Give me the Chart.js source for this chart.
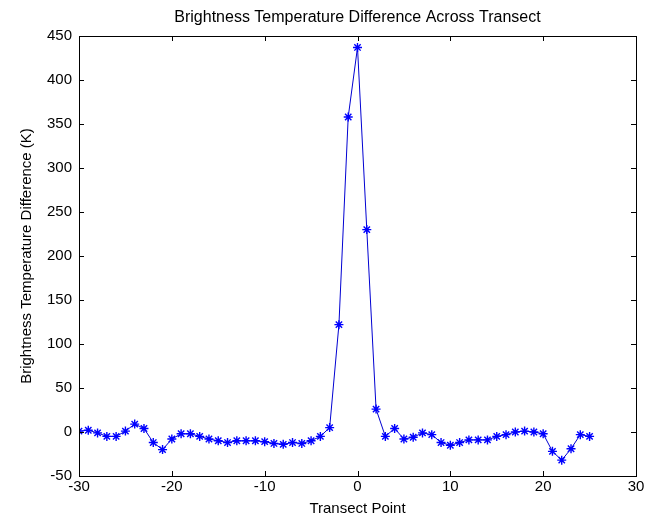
<!DOCTYPE html>
<html>
<head>
<meta charset="utf-8">
<script src="https://cdn.jsdelivr.net/npm/chart.js@4.4.1/dist/chart.umd.min.js"></script>
<style>
  body { margin: 0; background: #fff; }
  #wrap { width: 654px; height: 520px; }
</style>
</head>
<body>
<div id="wrap"><canvas id="myChart" width="654" height="520"></canvas></div>
<script>
// transect points (x) and brightness temperature difference (K)
const transectPoints = [-30,-29,-28,-27,-26,-25,-24,-23,-22,-21,-20,-19,-18,-17,-16,-15,-14,-13,-12,-11,
  -10,-9,-8,-7,-6,-5,-4,-3,-2,-1,0,1,2,3,4,5,6,7,8,9,10,11,12,13,14,15,16,17,18,19,20,21,22,23,24,25];
const tempDiff = [1,2,-1,-5,-5,1,9,4,-12,-20,-8,-2,-2,-5,-8,-10,-12,-10,-10,-10,
  -11,-13,-14,-12,-13,-10,-5,5,122,358,437,230,26,-5,4,-8,-6,-1,-3,-12,
  -15,-12,-9,-9,-9,-5,-3,0,1,0,-2,-22,-32,-19,-3,-5];
const xTicks = [-30,-20,-10,0,10,20,30];
const yTicks = [-50,0,50,100,150,200,250,300,350,400,450];

Chart.defaults.font.family = '"Liberation Sans", Arial, sans-serif';
Chart.defaults.font.size = 15;
Chart.defaults.color = '#000';

const points = [];
for (let i = 0; i < transectPoints.length; i++) {
  points.push({x: transectPoints[i], y: tempDiff[i]});
}

// matlab style box with inward ticks
const boxPlugin = {
  id: 'box',
  afterDraw(chart) {
    const ctx = chart.ctx;
    const a = chart.chartArea;
    const sx = chart.scales.x, sy = chart.scales.y;
    const len = 5;
    ctx.save();
    ctx.strokeStyle = '#000';
    ctx.lineWidth = 1;
    ctx.strokeRect(Math.round(a.left) + 0.5, Math.round(a.top) + 0.5,
      Math.round(a.right - a.left), Math.round(a.bottom - a.top));
    ctx.beginPath();
    sx.ticks.forEach(t => {
      const px = Math.round(sx.getPixelForValue(t.value)) + 0.5;
      ctx.moveTo(px, a.bottom); ctx.lineTo(px, a.bottom - len);
      ctx.moveTo(px, a.top); ctx.lineTo(px, a.top + len);
    });
    sy.ticks.forEach(t => {
      const py = Math.round(sy.getPixelForValue(t.value)) + 0.5;
      ctx.moveTo(a.left, py); ctx.lineTo(a.left + len, py);
      ctx.moveTo(a.right, py); ctx.lineTo(a.right - len, py);
    });
    ctx.stroke();
    ctx.restore();
  }
};

const data = {
  datasets: [{
    label: 'Brightness Temperature Difference',
    data: points,
    borderColor: 'rgb(0,0,210)',
    backgroundColor: 'rgb(0,0,255)',
    borderWidth: 1,
    tension: 0,
    pointStyle: 'star',
    pointRadius: 4.5,
    pointBorderWidth: 1.4,
    pointBorderColor: 'rgb(0,0,255)'
  }]
};

const config = {
  type: 'line',
  data,
  plugins: [boxPlugin],
  options: {
    responsive: false,
    animation: false,
    layout: { padding: { left: 0, right: 18, top: 0, bottom: 0 } },
    plugins: {
      legend: { display: false },
      tooltip: { enabled: false },
      title: {
        display: true,
        fullSize: false,
        text: 'Brightness Temperature Difference Across Transect',
        font: { size: 16, weight: 'normal' },
        padding: { top: 8.4, bottom: 8.4 }
      }
    },
    scales: {
      x: {
        type: 'linear',
        min: -30,
        max: 30,
        afterBuildTicks: s => { s.ticks = xTicks.map(v => ({value: v})); },
        afterFit: s => { s.height = 44; },
        grid: { display: false, drawTicks: false },
        border: { display: false },
        ticks: { padding: 2, font: { size: 15 } },
        title: { display: true, text: 'Transect Point', font: { size: 15 }, padding: { top: 0, bottom: 2 } }
      },
      y: {
        min: -50,
        max: 450,
        afterBuildTicks: s => { s.ticks = yTicks.map(v => ({value: v})); },
        afterFit: s => { s.width = 79; },
        grid: { display: false, drawTicks: false },
        border: { display: false },
        ticks: { padding: 7, font: { size: 15 } },
        title: { display: true, text: 'Brightness Temperature Difference (K)', font: { size: 15 }, padding: { top: 18, bottom: 0 } }
      }
    }
  }
};

const myChart = new Chart(document.getElementById('myChart'), config);
</script>
</body>
</html>
